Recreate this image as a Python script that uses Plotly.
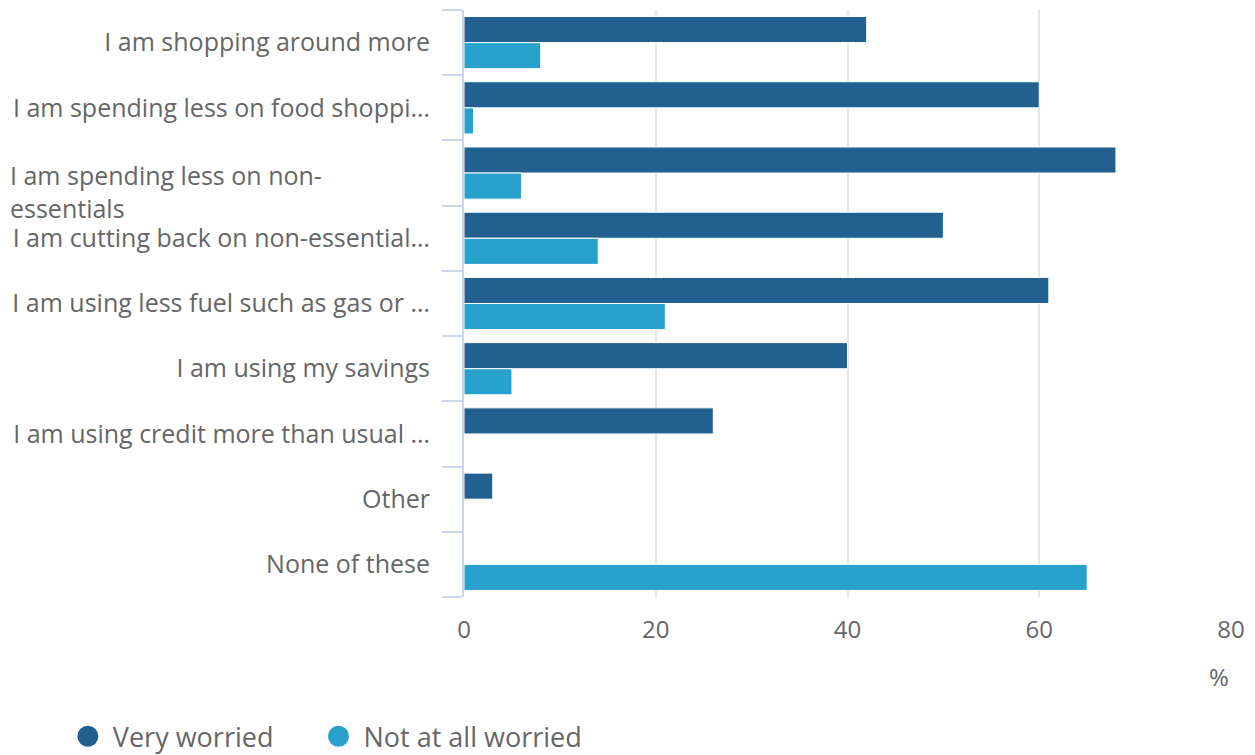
import plotly.graph_objects as go

categories = [
    "I am shopping around more",
    "I am spending less on food shoppi…",
    "I am spending less on non-essentials",
    "I am cutting back on non-essential…",
    "I am using less fuel such as gas or …",
    "I am using my savings",
    "I am using credit more than usual …",
    "Other",
    "None of these",
]
tick_text = [
    "I am shopping around more",
    "I am spending less on food shoppi…",
    "",
    "I am cutting back on non-essential…",
    "I am using less fuel such as gas or …",
    "I am using my savings",
    "I am using credit more than usual …",
    "Other",
    "None of these",
]
wrapped_label = "I am spending less on non-<br>essentials"
very_worried = [42, 60, 68, 50, 61, 40, 26, 3, 0]
not_worried = [8, 1, 6, 14, 21, 5, 0, 0, 65]
x_ticks = [0, 20, 40, 60, 80]

DARK = "#22618f"
LIGHT = "#28a1cc"
TXT = "#666666"
FONT = "Open Sans"

fig = go.Figure()
fig.add_trace(go.Bar(y=categories, x=very_worried, orientation="h", name="Very worried",
                     marker=dict(color=DARK, line=dict(color="#ffffff", width=1)),
                     showlegend=False))
fig.add_trace(go.Bar(y=categories, x=not_worried, orientation="h", name="Not at all worried",
                     marker=dict(color=LIGHT, line=dict(color="#ffffff", width=1)),
                     showlegend=False))
# legend entries with circle symbols
fig.add_trace(go.Scatter(x=[None], y=[None], mode="markers",
                         name="Very worried\u00a0\u00a0\u00a0\u00a0\u00a0",
                         marker=dict(color=DARK, size=16, symbol="circle",
                                     line=dict(color=DARK, width=5))))
fig.add_trace(go.Scatter(x=[None], y=[None], mode="markers", name="Not at all worried",
                         marker=dict(color=LIGHT, size=16, symbol="circle",
                                     line=dict(color=LIGHT, width=5))))

fig.update_layout(
    width=1247, height=770,
    margin=dict(l=456, r=24, t=2, b=181),
    paper_bgcolor="white", plot_bgcolor="white",
    font=dict(family=FONT, size=25, color=TXT),
    barmode="group", bargap=0.2, bargroupgap=0,
    legend=dict(orientation="h", x=-0.523, xanchor="left", y=-0.238, yanchor="middle",
                font=dict(size=27, color=TXT), itemsizing="trace",
                traceorder="normal", itemwidth=40),
    xaxis=dict(range=[0, 80], tickvals=x_ticks, showgrid=True, gridcolor="#e6e6e6",
               gridwidth=2, zeroline=False, showline=False, ticks="",
               tickfont=dict(size=24, color=TXT), ticklabelstandoff=16, fixedrange=True),
    yaxis=dict(autorange="reversed", showgrid=False, showline=True, linecolor="#ccd6eb",
               linewidth=2, ticks="outside", tickson="boundaries", ticklen=20,
               tickcolor="#ccd6eb", tickwidth=2, tickfont=dict(size=25, color=TXT),
               tickvals=categories, ticktext=tick_text,
               ticklabelstandoff=27, automargin=False),
    annotations=[
        dict(text="%", xref="paper", yref="paper", x=1, y=-0.136,
             xanchor="right", yanchor="middle", showarrow=False,
             font=dict(size=24, color=TXT)),
        dict(text=wrapped_label, xref="paper", yref="y", x=-0.595, y=categories[2],
             xanchor="left", yanchor="middle", align="left", yshift=-18,
             showarrow=False, font=dict(size=25, color=TXT)),
    ],
)
fig.write_html("out.html")
